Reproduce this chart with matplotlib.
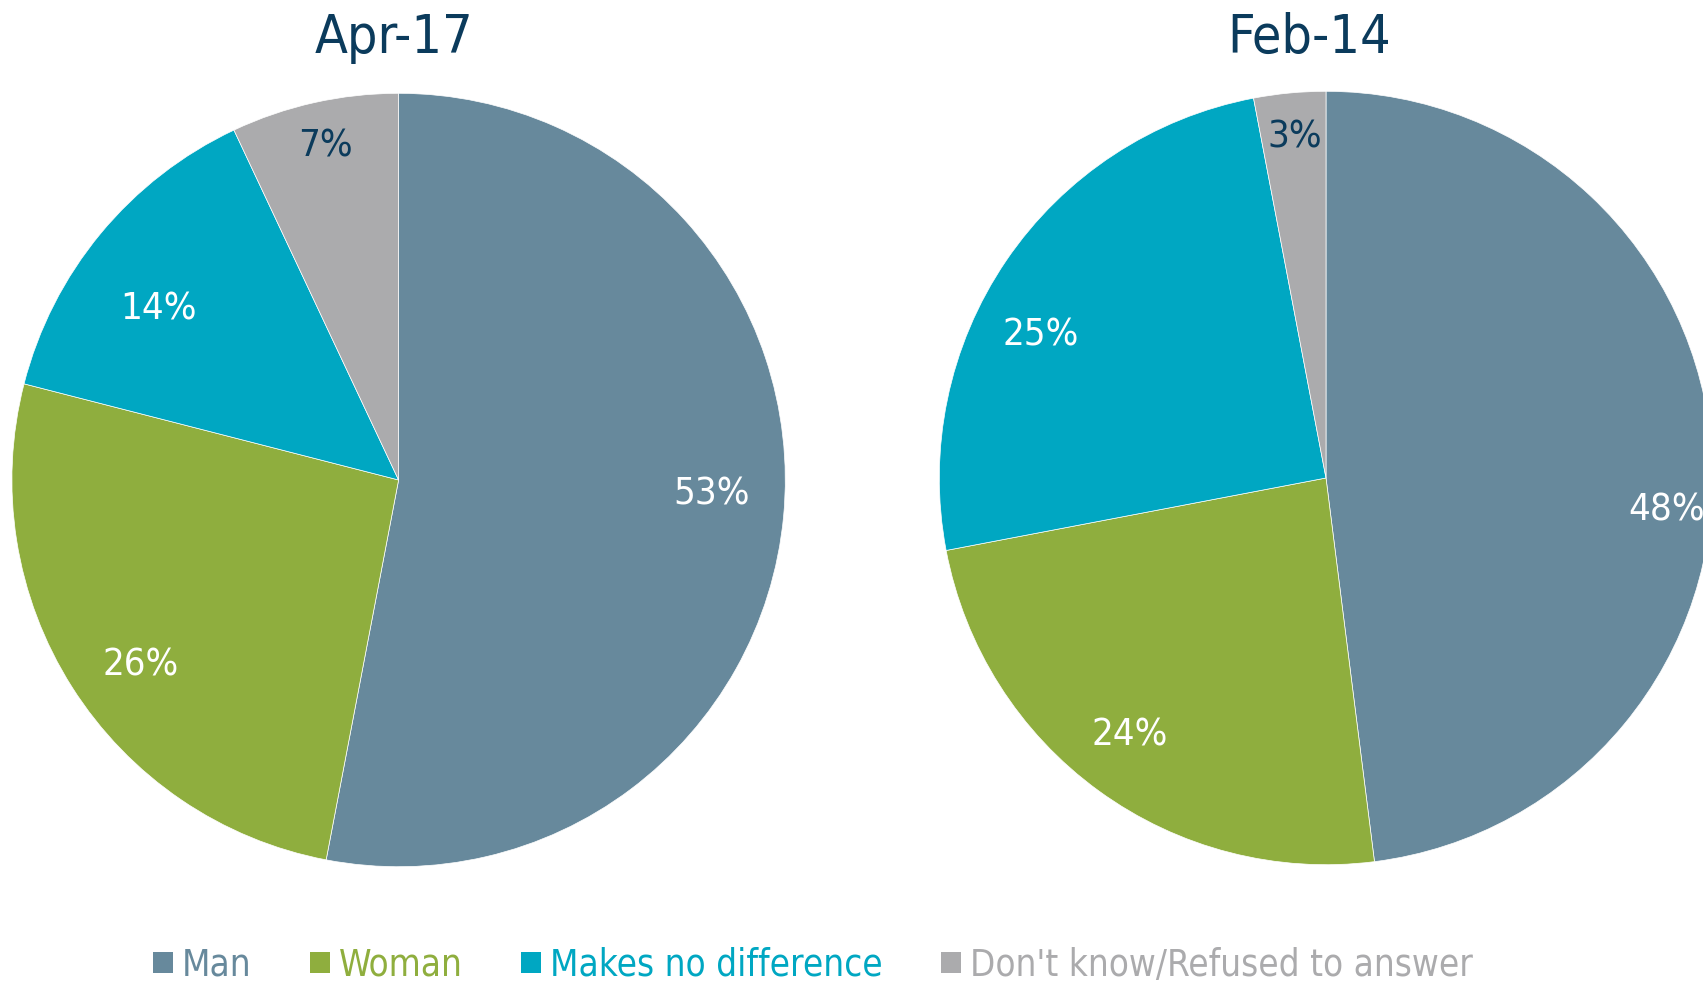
import matplotlib
matplotlib.use("Agg")
import matplotlib.pyplot as plt
from matplotlib.patches import Patch
import numpy as np

# --- data -----------------------------------------------------------------
categories = ["Man", "Woman", "Makes no difference", "Don't know/Refused to answer"]
periods = ["Apr-17", "Feb-14"]
apr17_values = [53, 26, 14, 7]
feb14_values = [48, 24, 25, 3]

# --- style ----------------------------------------------------------------
colors = ["#67899C", "#8FAE3E", "#00A7C2", "#ABABAD"]
title_color = "#0B3B5C"
dark_label = "#0B3B5C"
FONT = "DejaVu Sans"

# label placement: (radial fraction, angular nudge in degrees from wedge middle)
label_place = {
    "Apr-17": [(0.81, 3.4), (0.816, 2.8), (0.768, 3.5), (0.894, -0.4)],
    "Feb-14": [(0.885, -8.3), (0.83, -1.7), (0.83, 7.1), (0.894, -0.2)],
}

W, H = 1703, 981
fig = plt.figure(figsize=(W / 100, H / 100), dpi=100)
fig.patch.set_facecolor("white")

R = 386.7  # pie radius in pixels
centers = [(398.6, 480.0), (1326.0, 478.0)]  # pie centres in pixels from top-left
title_x = [394, 1309]


def draw_pie(center, values, name):
    cx, cy = center
    ax = fig.add_axes([(cx - R) / W, 1 - (cy + R) / H, 2 * R / W, 2 * R / H])
    wedges, _ = ax.pie(values, colors=colors, startangle=90, counterclock=False,
                       radius=1.0,
                       wedgeprops=dict(edgecolor="white", linewidth=0.5))
    ax.set_xlim(-1, 1)
    ax.set_ylim(-1, 1)
    ax.set_aspect("equal")
    ax.axis("off")
    for w, v, (rf, nudge) in zip(wedges, values, label_place[name]):
        mid = np.deg2rad((w.theta1 + w.theta2) / 2 + nudge)
        color = dark_label if v < 10 else "white"
        ax.text(rf * np.cos(mid), rf * np.sin(mid), f"{v}%",
                ha="center", va="center_baseline", color=color, fontsize=27.5,
                family=FONT, fontstretch="condensed")
    return ax


draw_pie(centers[0], apr17_values, periods[0])
draw_pie(centers[1], feb14_values, periods[1])

for x, t in zip(title_x, periods):
    fig.text(x / W, 1 - 53 / H, t, ha="center", va="baseline",
             fontsize=38.5, color=title_color, family=FONT, fontstretch="condensed")

handles = [Patch(facecolor=c, edgecolor="none") for c in colors]
leg = fig.legend(handles, categories, loc="center", ncol=4,
                 bbox_to_anchor=(813 / W, 1 - 965 / H), frameon=False,
                 prop=dict(family=FONT, size=26.4, stretch="condensed"),
                 handlelength=0.54, handleheight=0.54, handletextpad=0.24,
                 columnspacing=1.6, borderpad=0, borderaxespad=0)
for txt, c in zip(leg.get_texts(), colors):
    txt.set_color(c)

fig.savefig("out.png", dpi=100, facecolor="white")
